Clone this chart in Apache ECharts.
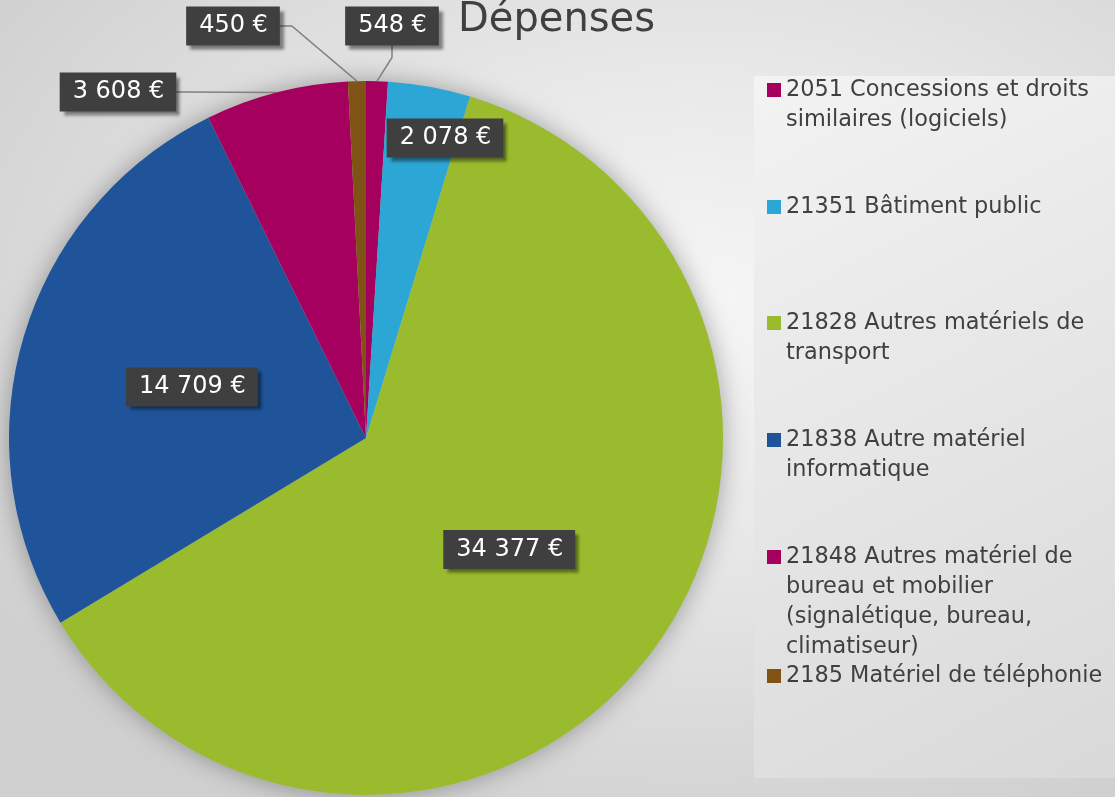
<!DOCTYPE html>
<html>
<head>
<meta charset="utf-8">
<title>Dépenses</title>
<script src="https://cdn.jsdelivr.net/npm/echarts@6/dist/echarts.min.js"></script>
<style>
  html, body { margin: 0; padding: 0; }
  #chart {
    width: 1115px; height: 797px;
    background: radial-gradient(ellipse 75% 70% at 62% 38%, #f6f6f6 0%, #e9e9e9 40%, #d0d0d0 100%);
  }
</style>
</head>
<body>
<div id="chart"></div>
<script>
// donnees
var categories = [
    '2051 Concessions et droits similaires (logiciels)',
    '21351 Bâtiment public',
    '21828 Autres matériels de transport',
    '21838 Autre matériel informatique',
    '21848 Autres matériel de bureau et mobilier (signalétique, bureau, climatiseur)',
    '2185 Matériel de téléphonie'
];
var values = [548, 2078, 34377, 14709, 3608, 450];
var colors = ['#a6005f', '#2ca6d4', '#9bbb2f', '#1f549b', '#a6005f', '#7f5215'];
// texte de la legende, coupe comme sur l'original
var legendLines = [
    ['2051 Concessions et droits', 'similaires (logiciels)'],
    ['21351 Bâtiment public'],
    ['21828 Autres matériels de', 'transport'],
    ['21838 Autre matériel', 'informatique'],
    ['21848 Autres matériel de', 'bureau et mobilier', '(signalétique, bureau,', 'climatiseur)'],
    ['2185 Matériel de téléphonie']
];

// mise en page
var legendFirstLine = [90, 207, 323, 440, 557, 676];
var lineH = 30;
var labelPos = [[392, 26], [445, 138], null, null, [118, 92], [233, 26]];
var labelSide = ['outside', 'inside', 'inside', 'inside', 'outside', 'outside'];

function fmtEuro(v) {
    return String(v).replace(/\B(?=(\d{3})+(?!\d))/g, ' ') + ' €';
}

var chart = echarts.init(document.getElementById('chart'));

var legends = [];
for (var i = 0; i < categories.length; i++) {
    var n = legendLines[i].length;
    legends.push({
        data: [categories[i]],
        left: 767,
        top: legendFirstLine[i] - (2 * n - 1) * lineH / 2,
        padding: 0,
        icon: 'rect',
        itemWidth: 14,
        itemHeight: 14,
        selectedMode: false,
        formatter: function (name) {
            var lines = legendLines[categories.indexOf(name)];
            // lignes vides au-dessus pour aligner le carre sur la 1re ligne
            return new Array(lines.length).join('\n') + lines.join('\n');
        },
        textStyle: {
            fontFamily: 'DejaVu Sans',
            fontSize: 22.4,
            lineHeight: lineH,
            color: '#404040'
        }
    });
}

var pieData = [];
for (var k = 0; k < values.length; k++) {
    pieData.push({
        name: categories[k],
        value: values[k],
        itemStyle: { color: colors[k] },
        label: { position: labelSide[k] },
        labelLine: { show: labelSide[k] == 'outside' }
    });
}

var option = {
    animation: false,
    title: {
        text: 'Dépenses',
        left: 458,
        top: 1,
        padding: 0,
        textStyle: {
            fontFamily: 'DejaVu Sans',
            fontSize: 40,
            fontWeight: 'normal',
            color: '#404040'
        }
    },
    legend: legends,
    graphic: [{
        type: 'rect',
        z: -10,
        silent: true,
        shape: { x: 754, y: 76, width: 361, height: 702 },
        style: {
            fill: new echarts.graphic.LinearGradient(0, 0, 1, 1, [
                { offset: 0, color: '#f3f3f3' },
                { offset: 1, color: '#d9d9d9' }
            ])
        }
    }],
    series: [
        {
            // ombre legere autour du camembert
            type: 'pie',
            silent: true,
            z: 1,
            center: [366, 438],
            radius: 357,
            label: { show: false },
            labelLine: { show: false },
            itemStyle: {
                color: '#bdbdbd',
                shadowBlur: 24,
                shadowColor: 'rgba(0,0,0,0.32)'
            },
            data: [{ value: 1, name: '' }]
        },
        {
            name: 'Dépenses',
            type: 'pie',
            z: 2,
            center: [366, 438],
            radius: 357,
            startAngle: 90,
            clockwise: true,
            avoidLabelOverlap: false,
            minShowLabelAngle: 0,
            itemStyle: { borderWidth: 0 },
            label: {
                show: true,
                formatter: function (p) { return fmtEuro(p.value); },
                fontFamily: 'DejaVu Sans',
                fontSize: 24,
                lineHeight: 23,
                color: '#ffffff',
                backgroundColor: '#3f3f3f',
                padding: [8, 12, 8, 13],
                shadowColor: 'rgba(0,0,0,0.45)',
                shadowBlur: 3,
                shadowOffsetX: 4,
                shadowOffsetY: 4
            },
            labelLine: {
                show: true,
                length: 12,
                length2: 12,
                lineStyle: { color: '#808080', width: 1.5 }
            },
            labelLayout: function (params) {
                var p = labelPos[params.dataIndex];
                if (!p) {
                    return {};
                }
                return { x: p[0], y: p[1], align: 'center', verticalAlign: 'middle' };
            },
            data: pieData
        }
    ]
};

chart.setOption(option);
</script>
</body>
</html>
